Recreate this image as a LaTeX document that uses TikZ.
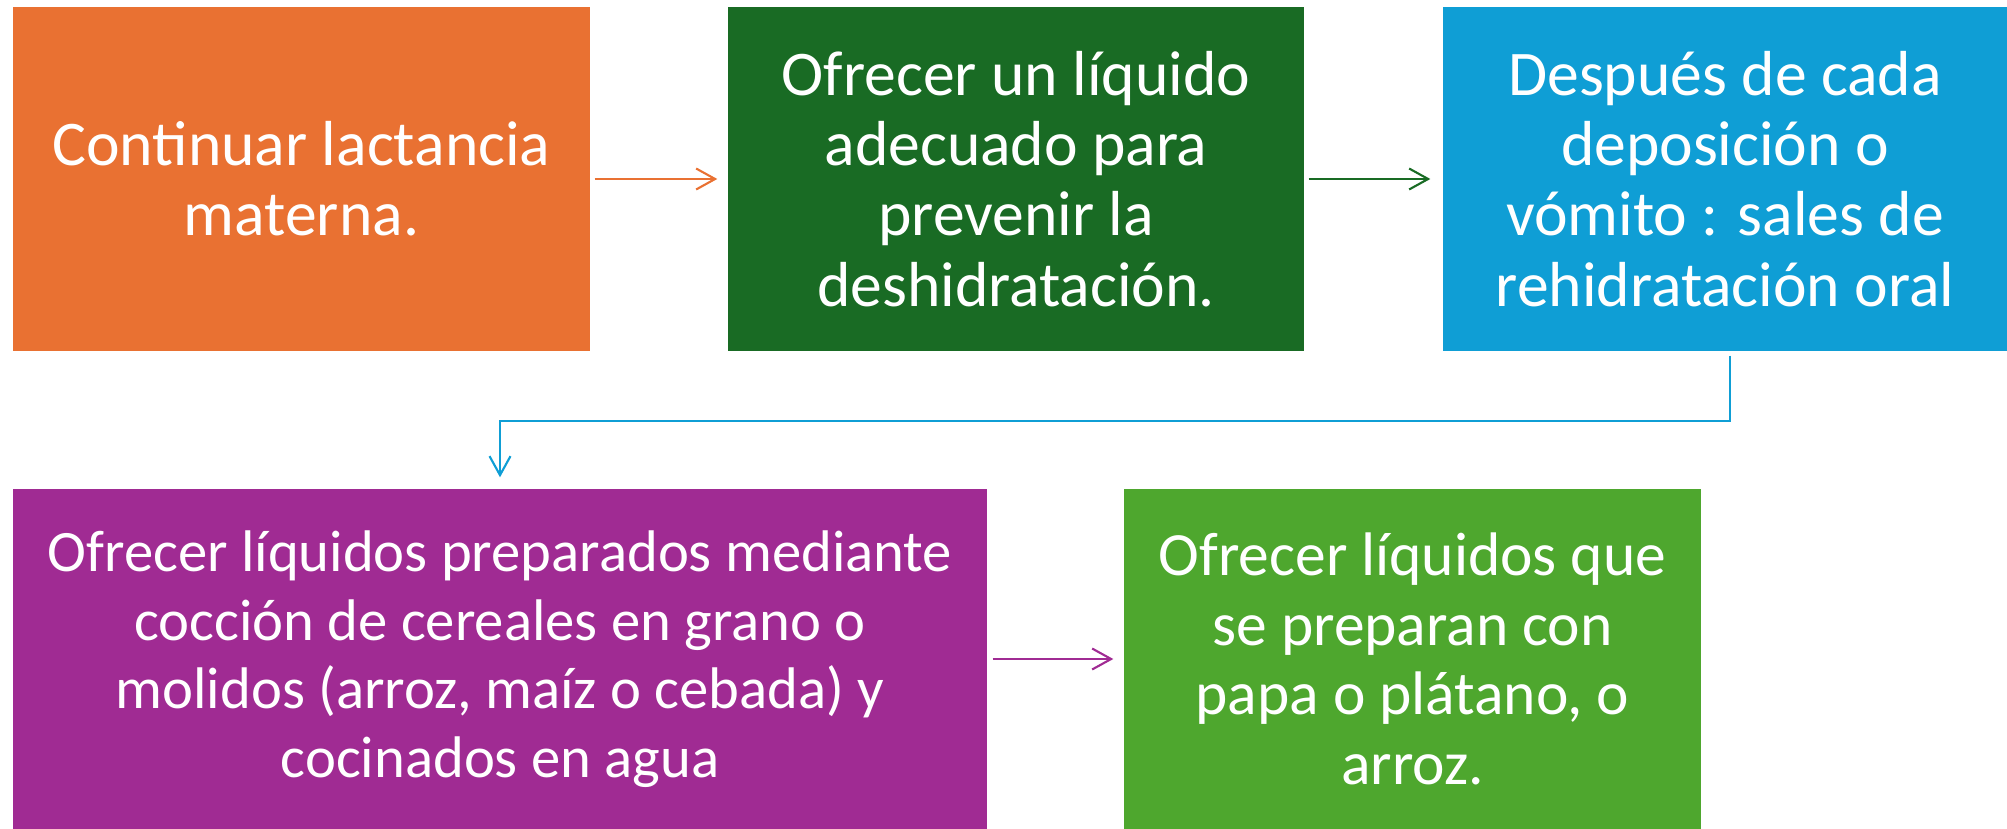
\documentclass[tikz,border=0pt]{standalone}
\usepackage{fontspec}
\setmainfont{Carlito}
\usetikzlibrary{arrows.meta, positioning}

\definecolor{naranja}{HTML}{E97132}
\definecolor{verdeosc}{HTML}{196B24}
\definecolor{azul}{HTML}{0F9ED5}
\definecolor{morado}{HTML}{A02B93}
\definecolor{verde}{HTML}{4EA72E}

\begin{document}
\begin{tikzpicture}[
    paso/.style={rectangle, inner sep=0pt, text=white, align=center,
        font=\fontsize{18.1}{20}\selectfont},
    flecha/.style={-{Straight Barb[length=1.9mm, width=2.1mm]}, line width=0.6pt}
]
    \useasboundingbox (0,0) rectangle (20.07,-8.29);

    % Primera fila
    \node[paso, fill=naranja, minimum width=5.77cm, minimum height=3.44cm] (p1) at (3.015,-1.79)
        {Continuar lactancia\\materna.};
    \node[paso, fill=verdeosc, minimum width=5.76cm, minimum height=3.44cm] (p2) at (10.16,-1.79)
        {Ofrecer un líquido\\adecuado para\\prevenir la\\deshidratación.};
    \node[paso, fill=azul, minimum width=5.64cm, minimum height=3.44cm] (p3) at (17.25,-1.79)
        {Después de cada\\deposición o\\vómito : sales de\\rehidratación oral};

    % Segunda fila
    \node[paso, fill=morado, minimum width=9.74cm, minimum height=3.40cm,
        font=\fontsize{16.7}{19.5}\selectfont] (p4) at (5.00,-6.59)
        {Ofrecer líquidos preparados mediante\\cocción de cereales en grano o\\molidos (arroz, maíz o cebada) y\\cocinados en agua};
    \node[paso, fill=verde, minimum width=5.77cm, minimum height=3.40cm,
        font=\fontsize{17.5}{19.8}\selectfont] (p5) at (14.125,-6.59)
        {Ofrecer líquidos que\\se preparan con\\papa o plátano, o\\arroz.};

    % Flechas
    \draw[flecha, naranja, shorten <=0.4mm, shorten >=1mm] (p1) -- (p2);
    \draw[flecha, verdeosc, shorten <=0.4mm, shorten >=1.2mm] (p2) -- (p3);
    \draw[flecha, azul, shorten <=0.4mm, shorten >=1.1mm] ([xshift=0.5mm]p3.south) -- ++(0,-0.69) -| (p4.north);
    \draw[flecha, morado, shorten <=0.5mm, shorten >=1mm] (p4) -- (p5);
\end{tikzpicture}
\end{document}
